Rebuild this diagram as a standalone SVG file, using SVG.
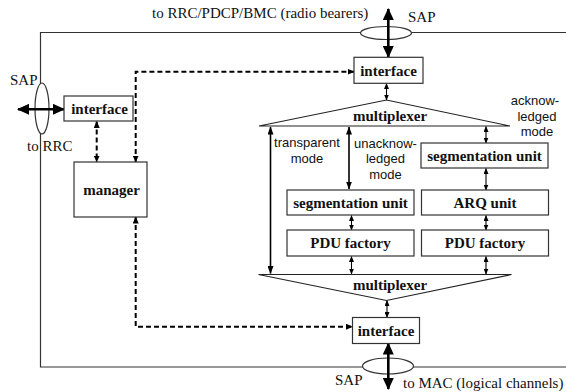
<svg xmlns="http://www.w3.org/2000/svg" width="566" height="392" viewBox="0 0 566 392">
  <style>
    .frame { fill: none; stroke: #333; stroke-width: 1.2; }
    .box { fill: #fff; stroke: #333; stroke-width: 1.2; }
    .mux { fill: #fff; stroke: #222; stroke-width: 1.2; }
    .sap { fill: #fff; stroke: #333; stroke-width: 1.2; }
    .lbl { font-family: "Liberation Serif", "Times New Roman", serif; font-size: 15px; font-weight: bold; fill: #111; text-anchor: middle; }
    .ext { font-family: "Liberation Serif", "Times New Roman", serif; font-size: 15px; fill: #111; }
    .mode { font-family: "Liberation Sans", Arial, sans-serif; font-size: 13px; fill: #111; text-anchor: middle; }
    .thick { stroke: #000; stroke-width: 2.6; fill: none; marker-start: url(#bigHead); marker-end: url(#bigHead); }
    .thin { stroke: #000; stroke-width: 1.1; fill: none; marker-start: url(#smallHead); marker-end: url(#smallHead); }
    .modeArrow { stroke: #000; stroke-width: 1.6; fill: none; marker-start: url(#midHead); marker-end: url(#midHead); }
    .dash { stroke: #000; stroke-width: 2; stroke-dasharray: 5 3; fill: none; marker-start: url(#dashHead); marker-end: url(#dashHead); }
  </style>
  <defs>
    <marker id="bigHead" viewBox="0 0 12 11" refX="11" refY="5.5" markerWidth="12" markerHeight="11" markerUnits="userSpaceOnUse" orient="auto-start-reverse">
      <path d="M0,0 L12,5.5 L0,11 z" fill="#000"/>
    </marker>
    <marker id="midHead" viewBox="0 0 8 6" refX="7.5" refY="3" markerWidth="8" markerHeight="6" markerUnits="userSpaceOnUse" orient="auto-start-reverse">
      <path d="M0,0 L8,3 L0,6 z" fill="#000"/>
    </marker>
    <marker id="smallHead" viewBox="0 0 6 5" refX="5.5" refY="2.5" markerWidth="6" markerHeight="5" markerUnits="userSpaceOnUse" orient="auto-start-reverse">
      <path d="M0,0 L6,2.5 L0,5 z" fill="#000"/>
    </marker>
    <marker id="dashHead" viewBox="0 0 7 6" refX="6.5" refY="3" markerWidth="7" markerHeight="6" markerUnits="userSpaceOnUse" orient="auto-start-reverse">
      <path d="M0,0 L7,3 L0,6 z" fill="#000"/>
    </marker>
  </defs>

  <rect width="566" height="392" fill="#fff"/>

  <!-- entity boundary -->
  <path class="frame" d="M566,32.5 H40.5 V367 H566"/>

  <!-- external labels -->
  <text class="ext" x="152" y="18">to RRC/PDCP/BMC (radio bearers)</text>
  <text class="ext" x="408" y="22">SAP</text>
  <text class="ext" x="10" y="84.5">SAP</text>
  <text class="ext" x="27" y="151">to RRC</text>
  <text class="ext" x="335" y="385">SAP</text>
  <text class="ext" x="403" y="388">to MAC (logical channels)</text>

  <!-- connectors -->
  <g id="connectors">
    <!-- access points -->
    <ellipse class="sap" cx="386" cy="33" rx="25.5" ry="6.5"/>
    <ellipse class="sap" cx="42" cy="108.5" rx="7" ry="25.5"/>
    <ellipse class="sap" cx="388" cy="366" rx="25.5" ry="8"/>
    <line class="thick" x1="388.3" y1="9" x2="388.3" y2="57"/>
    <line class="thick" x1="18" y1="109.3" x2="64" y2="109.3"/>
    <line class="thick" x1="388.3" y1="343.5" x2="388.3" y2="389"/>

    <!-- control paths from manager -->
    <line class="dash" x1="96.7" y1="121.5" x2="96.7" y2="162"/>
    <path class="dash" d="M135.7,162 V71.7 H354"/>
    <path class="dash" d="M135.7,217 V326.7 H352.5"/>

    <!-- data paths -->
    <line class="thin" x1="386.5" y1="83.5" x2="386.5" y2="100"/>
    <line class="modeArrow" x1="270.5" y1="127" x2="270.5" y2="273.5"/>
    <line class="modeArrow" x1="349" y1="127" x2="349" y2="189"/>
    <line class="thin" x1="486" y1="126.5" x2="486" y2="143"/>
    <line class="thin" x1="486" y1="168.5" x2="486" y2="190"/>
    <line class="thin" x1="351.5" y1="215.5" x2="351.5" y2="230"/>
    <line class="thin" x1="486" y1="215.5" x2="486" y2="230"/>
    <line class="thin" x1="351.5" y1="256.5" x2="351.5" y2="274"/>
    <line class="thin" x1="486" y1="256.5" x2="486" y2="274"/>
    <line class="thin" x1="387" y1="300.5" x2="387" y2="317.5"/>
  </g>

  <g id="interface-upper">
    <rect class="box" x="354" y="57.3" width="69" height="26"/>
    <text class="lbl" x="388.5" y="75.5">interface</text>
  </g>

  <g id="interface-rrc">
    <rect class="box" x="64" y="96" width="69" height="25"/>
    <text class="lbl" x="99.5" y="113.5">interface</text>
  </g>

  <g id="manager">
    <rect class="box" x="74" y="162" width="73" height="55"/>
    <text class="lbl" x="111.5" y="194.5">manager</text>
  </g>

  <g id="multiplexer-upper">
    <polygon class="mux" points="259,126 386.5,100 510,126"/>
    <text class="lbl" x="390" y="120.5">multiplexer</text>
  </g>

  <g id="mode-labels">
    <text class="mode" x="307" y="147">transparent</text>
    <text class="mode" x="307" y="163">mode</text>
    <text class="mode" x="385.5" y="147.5">unacknow-</text>
    <text class="mode" x="385.5" y="163">ledged</text>
    <text class="mode" x="385.5" y="178.5">mode</text>
    <text class="mode" x="535" y="105">acknow-</text>
    <text class="mode" x="537" y="120.5">ledged</text>
    <text class="mode" x="537" y="136">mode</text>
  </g>

  <g id="segmentation-ack">
    <rect class="box" x="421" y="143" width="127" height="25"/>
    <text class="lbl" x="484.5" y="160.5">segmentation unit</text>
  </g>

  <g id="segmentation-unack">
    <rect class="box" x="287" y="190" width="127" height="25"/>
    <text class="lbl" x="350.5" y="207.5">segmentation unit</text>
  </g>

  <g id="arq-unit">
    <rect class="box" x="421.5" y="190" width="127" height="25"/>
    <text class="lbl" x="485" y="207.5">ARQ unit</text>
  </g>

  <g id="pdu-factory-unack">
    <rect class="box" x="287" y="230" width="127" height="26"/>
    <text class="lbl" x="350.5" y="248">PDU factory</text>
  </g>

  <g id="pdu-factory-ack">
    <rect class="box" x="421.5" y="230" width="127" height="26"/>
    <text class="lbl" x="485" y="248">PDU factory</text>
  </g>

  <g id="multiplexer-lower">
    <polygon class="mux" points="258.5,274.5 386.5,300.5 511.5,274.5"/>
    <text class="lbl" x="390" y="290">multiplexer</text>
  </g>

  <g id="interface-lower">
    <rect class="box" x="352.5" y="317.5" width="67" height="26"/>
    <text class="lbl" x="386" y="336">interface</text>
  </g>
</svg>
